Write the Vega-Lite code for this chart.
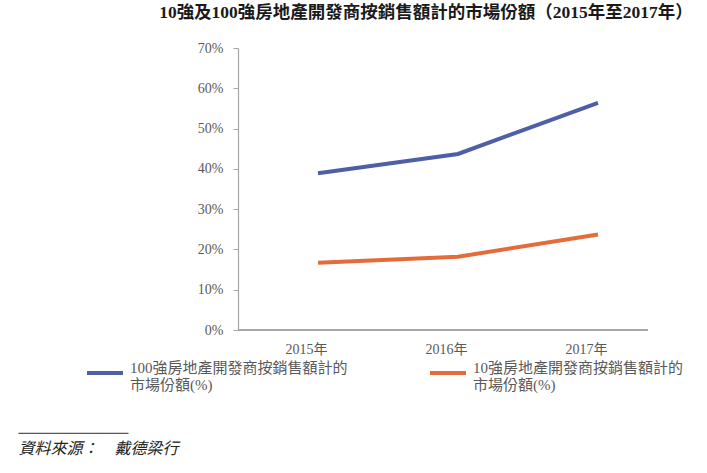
{
  "$schema": "https://vega.github.io/schema/vega-lite/v6.json",
  "autosize": {"type": "none"},
  "padding": {"left": 238, "top": 48, "right": 59, "bottom": 143},
  "width": 410,
  "height": 282,
  "background": "white",
  "config": {"view": {"stroke": null}},
  "title": {
    "text": "10強及100強房地產開發商按銷售額計的市場份額（2015年至2017年）",
    "font": "Liberation Serif, Noto Sans CJK TC",
    "fontSize": 17.5,
    "fontWeight": "bold",
    "color": "#1a1a1a",
    "anchor": "middle",
    "dx": -17,
    "offset": 20
  },
  "data": {
    "values": [
      {"year": "2015年", "series": "100", "share": 0.389},
      {"year": "2016年", "series": "100", "share": 0.437},
      {"year": "2017年", "series": "100", "share": 0.564},
      {"year": "2015年", "series": "10", "share": 0.167},
      {"year": "2016年", "series": "10", "share": 0.182},
      {"year": "2017年", "series": "10", "share": 0.237}
    ]
  },
  "layer": [
    {
      "mark": {"type": "rule", "color": "#a6a6a6", "strokeWidth": 1.2},
      "encoding": {"y": {"datum": 0}}
    },
    {
      "mark": {"type": "line", "strokeWidth": 4, "strokeCap": "butt"},
      "encoding": {
        "x": {
          "field": "year",
          "type": "ordinal",
          "scale": {"type": "point", "range": [80, 360], "padding": 0},
          "axis": {
            "title": "資料來源：　戴德梁行",
            "titleFont": "Liberation Serif, Noto Sans CJK TC",
            "titleFontStyle": "italic",
            "titleFontWeight": "normal",
            "titleFontSize": 16,
            "titleColor": "#222222",
            "titleAnchor": "start",
            "titleAlign": "left",
            "titleBaseline": "middle",
            "titleX": -220,
            "titleY": 118,
            "labelAngle": 0,
            "labelFont": "Liberation Serif, Noto Sans CJK TC",
            "labelFontSize": 14,
            "labelColor": "#595959",
            "labelPadding": 12,
            "labelOffset": -12,
            "ticks": false,
            "domain": false,
            "grid": false
          }
        },
        "y": {
          "field": "share",
          "type": "quantitative",
          "scale": {"domain": [0, 0.7]},
          "axis": {
            "title": "─────────────",
            "titleFont": "DejaVu Sans Mono",
            "titleFontSize": 14,
            "titleFontWeight": "normal",
            "titleColor": "#555555",
            "titleAngle": 0,
            "titleAlign": "left",
            "titleBaseline": "middle",
            "titleX": -220,
            "titleY": 385,
            "values": [0, 0.1, 0.2, 0.3, 0.4, 0.5, 0.6, 0.7],
            "format": ".0%",
            "labelFont": "Liberation Serif",
            "labelFontSize": 14,
            "labelColor": "#595959",
            "labelPadding": 10,
            "tickSize": 5,
            "tickColor": "#a6a6a6",
            "domainColor": "#a6a6a6",
            "domainWidth": 1.2,
            "grid": false
          }
        },
        "color": {
          "field": "series",
          "type": "nominal",
          "scale": {"domain": ["100", "10"], "range": ["#4E5FA6", "#E46C3A"]},
          "legend": {
            "title": null,
            "orient": "none",
            "legendX": -153,
            "legendY": 305,
            "direction": "horizontal",
            "columns": 2,
            "columnPadding": 74,
            "symbolType": "stroke",
            "symbolSize": 1296,
            "symbolStrokeWidth": 4,
            "labelOffset": 5,
            "labelFont": "Liberation Serif, Noto Sans CJK TC",
            "labelFontSize": 15,
            "labelColor": "#595959",
            "labelLimit": 400,
            "labelBaseline": "alphabetic",
            "labelExpr": "datum.value == '100' ? ['100強房地產開發商按銷售額計的', '市場份額(%)'] : ['10強房地產開發商按銷售額計的', '市場份額(%)']"
          }
        }
      }
    }
  ]
}
